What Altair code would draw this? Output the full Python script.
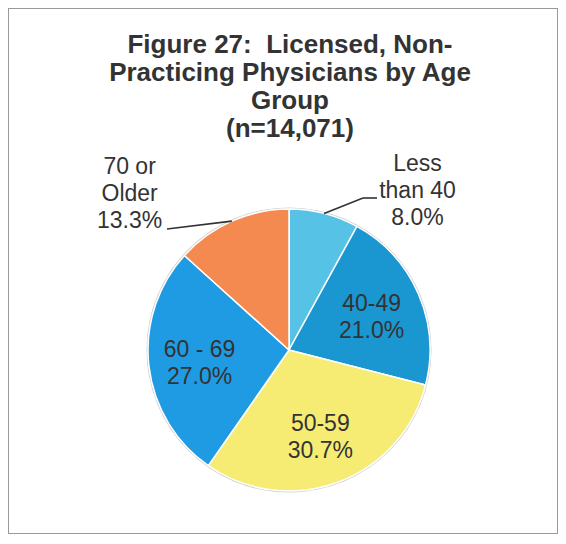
import altair as alt
import pandas as pd

categories = ["Less than 40", "40-49", "50-59", "60 - 69", "70 or Older"]
name_lines = ["Less\nthan 40", "40-49", "50-59", "60 - 69", "70 or\nOlder"]
percents = [8.0, 21.0, 30.7, 27.0, 13.3]
colors = ["#56C3E6", "#1A97D1", "#F6EC74", "#1E9BE2", "#F58A50"]
outside = ["Less than 40", "70 or Older"]
title_lines = ["Figure 27:\u00a0 Licensed, Non-", "Practicing Physicians by Age", "Group", "(n=14,071)"]

FONT = "Liberation Sans"
TXT = "#333333"
CX, CY, R = 281, 342, 141

df = pd.DataFrame({"cat": categories, "name": name_lines, "pct": percents,
                   "order": list(range(len(categories)))})
df["label"] = df["name"] + "\n" + df["pct"].map(lambda v: f"{v:.1f}%")
df["in_label"] = [l if c not in outside else "" for c, l in zip(df["cat"], df["label"])]
df["a_label"] = [l if c == outside[0] else "" for c, l in zip(df["cat"], df["label"])]
df["b_label"] = [l if c == outside[1] else "" for c, l in zip(df["cat"], df["label"])]

base = alt.Chart(df).encode(
    theta=alt.Theta("pct:Q", stack=True),
    order=alt.Order("order:Q"),
    x=alt.value(CX), y=alt.value(CY),
)

rim = alt.Chart(pd.DataFrame({"a": [1]})).mark_arc(
    radius=R + 1.5, theta=0, theta2=6.2832, color="#cfcfcf"
).encode(x=alt.value(CX), y=alt.value(CY))

pie = base.mark_arc(radius=R, stroke="white", strokeWidth=1.5).encode(
    color=alt.Color("cat:N", scale=alt.Scale(domain=categories, range=colors), legend=None)
)

txt_kw = dict(font=FONT, fontSize=23, color=TXT, lineBreak="\n", lineHeight=27,
              align="center", baseline="middle")
inside = base.mark_text(radius=90, dy=-10, **txt_kw).encode(text="in_label:N")
out_a = base.mark_text(radius=163, dx=88, dy=-28, **txt_kw).encode(text="a_label:N")
out_b = base.mark_text(radius=171, dx=-90, dy=-27, **txt_kw).encode(text="b_label:N")

lead = alt.Chart(df).transform_window(
    cum="sum(pct)", sort=[alt.SortField("order")], frame=[None, 0]
).transform_calculate(
    mid="(datum.cum - datum.pct/2)/100*2*PI",
    lx=f"{CX}+{R}*sin(datum.mid)",
    ly=f"{CY}-{R}*cos(datum.mid)",
)
rule_kw = dict(color="#333333", strokeWidth=1.6)
lead_a = lead.transform_filter(alt.datum.cat == outside[0]).mark_rule(**rule_kw).encode(
    x=alt.X("lx:Q", scale=None, axis=None), y=alt.Y("ly:Q", scale=None, axis=None),
    x2=alt.value(355), y2=alt.value(190))
lead_a2 = lead.transform_filter(alt.datum.cat == outside[0]).mark_rule(**rule_kw).encode(
    x=alt.value(355), x2=alt.value(369), y=alt.value(190))
lead_b = lead.transform_filter(alt.datum.cat == outside[1]).mark_rule(**rule_kw).encode(
    x=alt.X("lx:Q", scale=None, axis=None), y=alt.Y("ly:Q", scale=None, axis=None),
    x2=alt.value(159), y2=alt.value(221))

title = alt.Chart(pd.DataFrame({"t": ["\n".join(title_lines)]})).mark_text(
    font=FONT, fontSize=26, fontWeight="bold", color=TXT, lineBreak="\n",
    lineHeight=28, align="center", baseline="alphabetic"
).encode(text="t:N", x=alt.value(282), y=alt.value(45))

chart = alt.layer(rim, pie, inside, out_a, out_b, lead_a, lead_a2, lead_b, title).properties(
    width=550, height=526, autosize=alt.AutoSizeParams(type="none"), padding=0
).configure_view(stroke="#9a9a9a", strokeWidth=2)

chart.save("out.html", embed_options={"renderer": "svg", "actions": False})
